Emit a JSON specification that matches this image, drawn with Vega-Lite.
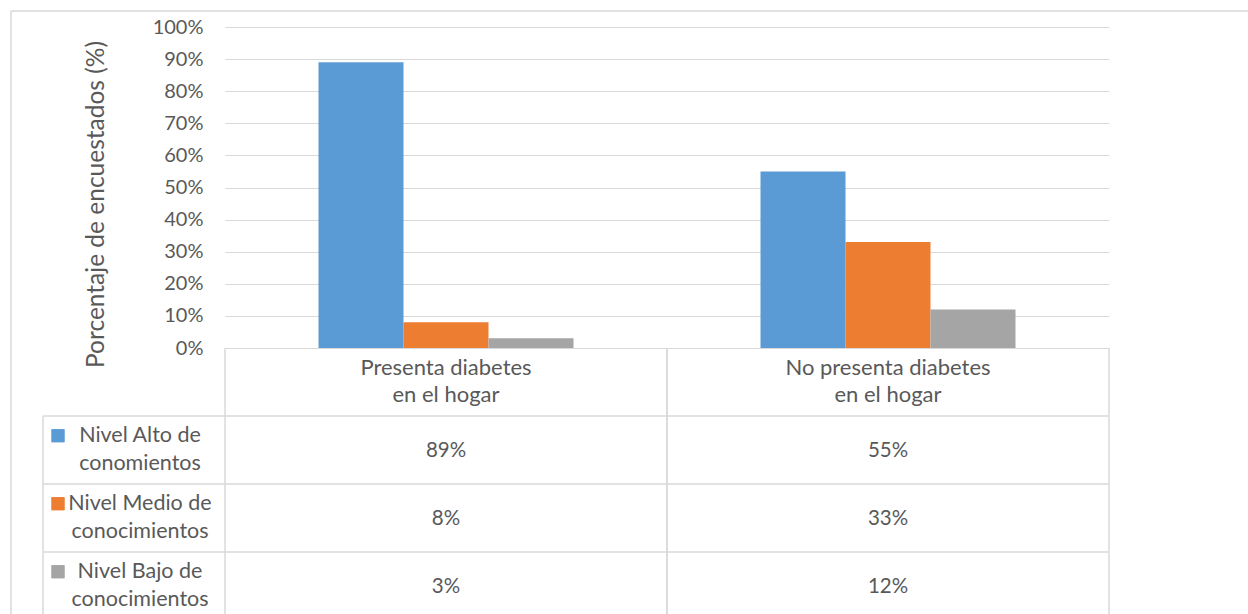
{
  "$schema": "https://vega.github.io/schema/vega-lite/v6.json",
  "autosize": "none",
  "width": 884,
  "height": 321,
  "padding": {"left": 225, "top": 27, "right": 139, "bottom": 266},
  "background": "white",
  "config": {
    "font": "Lato",
    "view": {"stroke": null},
    "axisX": {
      "domain": false, "ticks": false, "grid": false, "labelAngle": 0, "labelLimit": 0,
      "labelFontSize": 22, "labelColor": "#595959", "labelPadding": 9,
      "labelLineHeight": 27, "labelBaseline": "top",
      "labelExpr": "split(replace(datum.label, ' en el', '|en el'), '|')"
    },
    "axisY": {
      "domain": false, "ticks": false, "grid": true, "gridColor": "#d9d9d9", "gridWidth": 1,
      "labelFontSize": 20, "labelColor": "#595959", "labelPadding": 22,
      "titleFontSize": 24.5, "titleColor": "#595959", "titleFontWeight": "normal"
    }
  },
  "data": {
    "values": [
      {"category": "Presenta diabetes en el hogar", "series": "Nivel Alto de conomientos", "value": 0.89},
      {"category": "Presenta diabetes en el hogar", "series": "Nivel Medio de conocimientos", "value": 0.08},
      {"category": "Presenta diabetes en el hogar", "series": "Nivel Bajo de conocimientos", "value": 0.03},
      {"category": "No presenta diabetes en el hogar", "series": "Nivel Alto de conomientos", "value": 0.55},
      {"category": "No presenta diabetes en el hogar", "series": "Nivel Medio de conocimientos", "value": 0.33},
      {"category": "No presenta diabetes en el hogar", "series": "Nivel Bajo de conocimientos", "value": 0.12}
    ]
  },
  "resolve": {"scale": {"y": "independent"}},
  "layer": [
    {
      "mark": {"type": "bar"},
      "encoding": {
        "x": {"field": "category", "type": "nominal", "title": null,
              "sort": ["Presenta diabetes en el hogar", "No presenta diabetes en el hogar"],
              "scale": {"domain": ["Presenta diabetes en el hogar", "No presenta diabetes en el hogar"],
                        "paddingInner": 0.0385, "paddingOuter": 0.01925}},
        "xOffset": {"field": "series", "type": "nominal",
                    "sort": ["Nivel Alto de conomientos", "Nivel Medio de conocimientos", "Nivel Bajo de conocimientos"],
                    "scale": {"paddingInner": 0, "paddingOuter": 1}},
        "y": {"field": "value", "type": "quantitative",
              "scale": {"domain": [0, 1]},
              "axis": {"format": ".0%", "values": [0, 0.1, 0.2, 0.3, 0.4, 0.5, 0.6, 0.7, 0.8, 0.9, 1],
                       "title": "Porcentaje de encuestados (%)", "titleX": -117, "titleY": 177}},
        "color": {"field": "series", "type": "nominal", "legend": null,
                  "scale": {"domain": ["Nivel Alto de conomientos", "Nivel Medio de conocimientos", "Nivel Bajo de conocimientos"],
                            "range": ["#5B9BD5", "#ED7D31", "#A5A5A5"]}}
      }
    },
    {
      "layer": [
        {
          "mark": {"type": "text", "fontSize": 20.5, "color": "#595959", "align": "center", "baseline": "middle", "dy": 1},
          "encoding": {
            "x": {"field": "category", "type": "nominal", "title": null,
                  "sort": ["Presenta diabetes en el hogar", "No presenta diabetes en el hogar"]},
            "y": {"field": "series", "type": "nominal", "axis": null,
                  "sort": ["Nivel Alto de conomientos", "Nivel Medio de conocimientos", "Nivel Bajo de conocimientos"],
                  "scale": {"type": "band", "paddingInner": 0, "paddingOuter": 0, "range": [389, 593]}},
            "text": {"field": "value", "type": "quantitative", "format": ".0%"}
          }
        },
        {
          "mark": {"type": "point", "shape": "square", "filled": true, "opacity": 1, "size": 169},
          "encoding": {
            "x": {"value": -167},
            "y": {"field": "series", "type": "nominal", "axis": null, "bandPosition": 0.29,
                  "sort": ["Nivel Alto de conomientos", "Nivel Medio de conocimientos", "Nivel Bajo de conocimientos"],
                  "scale": {"type": "band", "paddingInner": 0, "paddingOuter": 0, "range": [389, 593]}},
            "color": {"field": "series", "type": "nominal", "legend": null,
                      "scale": {"domain": ["Nivel Alto de conomientos", "Nivel Medio de conocimientos", "Nivel Bajo de conocimientos"],
                                "range": ["#5B9BD5", "#ED7D31", "#A5A5A5"]}}
          }
        },
        {
          "transform": [
            {"filter": "datum.category === 'Presenta diabetes en el hogar'"},
            {"calculate": "replace(datum.series, ' de ', ' de\\n')", "as": "label"}
          ],
          "mark": {"type": "text", "fontSize": 21.5, "color": "#595959", "align": "center", "baseline": "middle",
                   "lineBreak": "\n", "lineHeight": 28, "dy": -14},
          "encoding": {
            "x": {"value": -85},
            "y": {"field": "series", "type": "nominal", "axis": null,
                  "sort": ["Nivel Alto de conomientos", "Nivel Medio de conocimientos", "Nivel Bajo de conocimientos"],
                  "scale": {"type": "band", "paddingInner": 0, "paddingOuter": 0, "range": [389, 593]}},
            "text": {"field": "label"}
          }
        },
        {
          "transform": [{"filter": "datum.category === 'Presenta diabetes en el hogar'"}],
          "mark": {"type": "rule", "color": "#d9d9d9", "strokeWidth": 1.5},
          "encoding": {
            "x": {"value": -182},
            "x2": {"value": 884},
            "y": {"field": "series", "type": "nominal", "axis": null, "bandPosition": 0,
                  "sort": ["Nivel Alto de conomientos", "Nivel Medio de conocimientos", "Nivel Bajo de conocimientos"],
                  "scale": {"type": "band", "paddingInner": 0, "paddingOuter": 0, "range": [389, 593]}}
          }
        },
        {
          "transform": [{"filter": "datum.series === 'Nivel Alto de conomientos'"}],
          "mark": {"type": "rule", "color": "#d9d9d9", "strokeWidth": 1.5},
          "encoding": {
            "x": {"field": "category", "type": "nominal", "title": null, "bandPosition": -0.02,
                  "sort": ["Presenta diabetes en el hogar", "No presenta diabetes en el hogar"]},
            "y": {"value": 321},
            "y2": {"value": 600}
          }
        },
        {
          "transform": [{"filter": "datum.series === 'Nivel Alto de conomientos'"}],
          "mark": {"type": "rule", "color": "#d9d9d9", "strokeWidth": 1.5},
          "encoding": {
            "x": {"field": "category", "type": "nominal", "title": null, "bandPosition": 1.02,
                  "sort": ["Presenta diabetes en el hogar", "No presenta diabetes en el hogar"]},
            "y": {"value": 321},
            "y2": {"value": 600}
          }
        },
        {
          "data": {"values": [{}]},
          "mark": {"type": "rule", "color": "#d9d9d9", "strokeWidth": 1.5},
          "encoding": {
            "x": {"value": -182},
            "y": {"value": 389},
            "y2": {"value": 600}
          }
        },
        {
          "data": {"values": [{}]},
          "mark": {"type": "rule", "color": "#d9d9d9", "strokeWidth": 1.5},
          "encoding": {
            "x": {"value": -214},
            "x2": {"value": 1030},
            "y": {"value": -16}
          }
        },
        {
          "data": {"values": [{}]},
          "mark": {"type": "rule", "color": "#d9d9d9", "strokeWidth": 1.5},
          "encoding": {
            "x": {"value": -214},
            "y": {"value": -16},
            "y2": {"value": 600}
          }
        }
      ]
    }
  ]
}
